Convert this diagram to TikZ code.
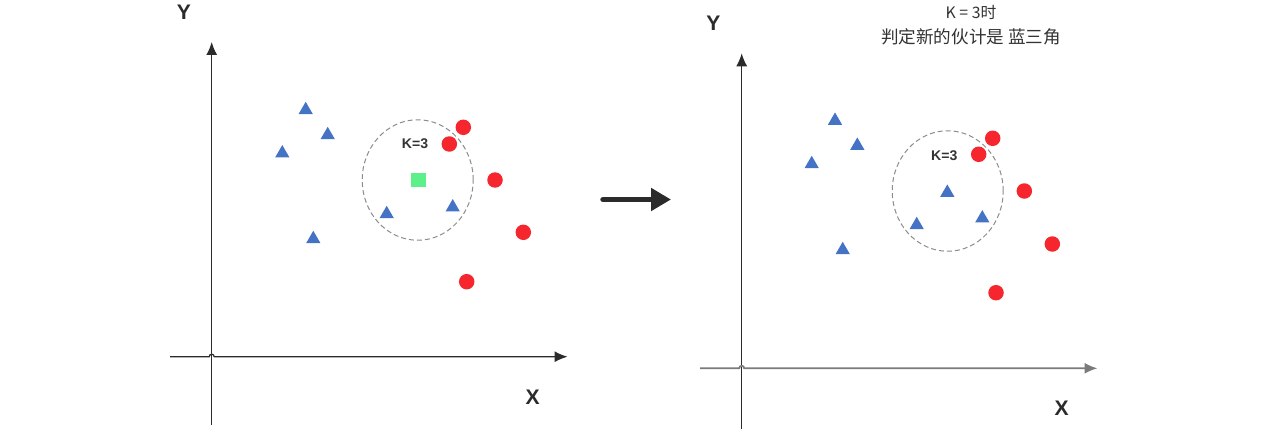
\documentclass[tikz,border=0pt]{standalone}
\usepackage{fontspec}
\setmainfont{Liberation Sans}
\newfontfamily\cjk{Noto Sans CJK SC}
\usetikzlibrary{arrows.meta,shapes.geometric}
\definecolor{triblue}{HTML}{4472C4}
\definecolor{dotred}{HTML}{F5262E}
\definecolor{newgreen}{HTML}{5CF08A}
\definecolor{axisdark}{HTML}{2B2B2B}
\definecolor{axisgray}{HTML}{7A7A7A}
\tikzset{
  tri/.style={regular polygon,regular polygon sides=3,fill=triblue,inner sep=0pt,minimum size=3.3mm},
  dot/.style={circle,fill=dotred,inner sep=0pt,minimum size=3.1mm},
  newpt/.style={rectangle,fill=newgreen,inner sep=0pt,minimum size=3mm},
  knn/.style={ellipse,draw=black!45,dash pattern=on 1mm off 0.6mm,line width=0.2mm,minimum width=22.2mm,minimum height=24.1mm},
  axis/.style={draw=axisdark,line width=0.25mm,-{Latex[length=2.6mm,width=2.2mm]}},
  axlabel/.style={font=\bfseries\large,text=axisdark},
  klabel/.style={font=\bfseries\footnotesize,text=black!80}
}
\begin{document}
\begin{tikzpicture}[x=0.02cm,y=-0.02cm]
  \useasboundingbox (0,0) rectangle (1270,429);
  % left panel
  \coordinate (ly0) at (211.7,425);
  \coordinate (ly1) at (211.7,42);
  \coordinate (lx0) at (170,356.7);
  \coordinate (lx1) at (567.5,356.7);
  \draw[axis] (ly0) -- (ly1);
  \draw[axis] (lx0) -- (209.2,356.7) arc (180:360:2.5) -- (lx1);
  \node[axlabel] (ylab) at (184,12) {Y};
  \node[axlabel] (xlab) at (532.7,397.7) {X};
  \node[knn] (lk) at (417.7,180) {};
  \node[klabel] (lkl) at (415,143.3) {K=3};
  \node[newpt] (new) at (418.3,180) {};
  \node[tri] (lt1) at (305.7,110) {};
  \node[tri] (lt2) at (327.7,135) {};
  \node[tri] (lt3) at (282.3,153.3) {};
  \node[tri] (lt4) at (313.3,239) {};
  \node[tri] (lt5) at (386.7,214) {};
  \node[tri] (lt6) at (452.7,207.3) {};
  \node[dot] (lc1) at (463.3,127.3) {};
  \node[dot] (lc2) at (449.3,144) {};
  \node[dot] (lc3) at (495,180) {};
  \node[dot] (lc4) at (523.3,232.3) {};
  \node[dot] (lc5) at (466.7,281.7) {};
  % arrow between panels
  \coordinate (a0) at (603,199.5);
  \coordinate (a1) at (671,199.5);
  \draw[draw=axisdark,line width=1.1mm,line cap=round,-{Triangle[length=4mm,width=4.4mm]}] (a0) -- (a1);
  % right panel
  \coordinate (ry0) at (741.7,429);
  \coordinate (ry1) at (741.7,53.3);
  \coordinate (rx0) at (700,368.3);
  \coordinate (rx1) at (1097.5,368.3);
  \draw[axis] (ry0) -- (ry1);
  \draw[axis,draw=axisgray,line width=0.35mm] (rx0) -- (739.2,368.3) arc (180:360:2.5) -- (rx1);
  \node[axlabel] (ylab2) at (713.3,23.3) {Y};
  \node[axlabel] (xlab2) at (1061.7,408.3) {X};
  \node[font=\cjk\small,text=black!80] (title1) at (971,12.7) {K = 3时};
  \node[font=\cjk\normalsize,text=black!80] (title2) at (971,36.7) {判定新的伙计是 蓝三角};
  \node[knn] (rk) at (947.7,191) {};
  \node[klabel] (rkl) at (944.3,155.3) {K=3};
  \node[tri] (rt1) at (835,120.7) {};
  \node[tri] (rt2) at (857.3,145.7) {};
  \node[tri] (rt3) at (811.7,164) {};
  \node[tri] (rt4) at (842.7,250) {};
  \node[tri] (rt5) at (916.7,225) {};
  \node[tri] (rt6) at (982.3,218.3) {};
  \node[tri] (rt7) at (947.3,192.7) {};
  \node[dot] (rc1) at (992.7,138.3) {};
  \node[dot] (rc2) at (978.7,154.3) {};
  \node[dot] (rc3) at (1024.3,191) {};
  \node[dot] (rc4) at (1052.3,244) {};
  \node[dot] (rc5) at (996,292.7) {};
\end{tikzpicture}
\end{document}
